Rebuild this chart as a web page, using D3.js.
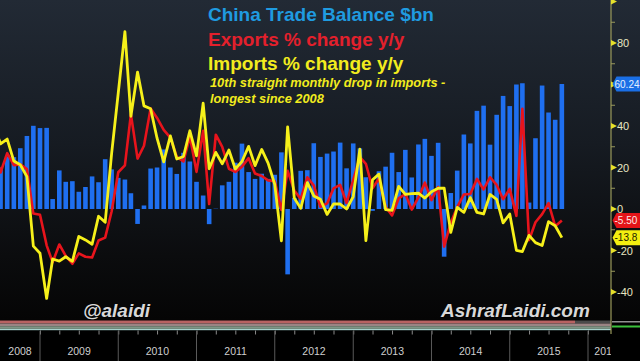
<!DOCTYPE html>
<html>
<head>
<meta charset="utf-8">
<script src="https://cdn.jsdelivr.net/npm/d3@7/dist/d3.min.js"></script>
<style>
html,body{margin:0;padding:0;background:#000;}
svg{display:block;}
text{font-family:"Liberation Sans",Arial,sans-serif;}
</style>
</head>
<body>
<svg id="chart" width="640" height="361"></svg>
<script>
// ---- DATA (monthly, May 2008 .. Aug 2015) ----
const firstMonth = "2008-05";
// China trade balance, $bn
const tradeBalance = [
  20.2, 20.0, 25.3, 25.0, 29.3, 35.2, 40.1, 39.0,
  39.1, 4.8, 18.6, 13.1, 13.4, 8.3, 10.6, 15.7, 12.9, 24.0, 19.1, 15.0,
  14.2, 7.6, -7.2, 1.7, 19.5, 20.0, 28.7, 20.0, 16.9, 27.1, 22.9, 13.1,
  6.5, -7.3, 0.14, 11.4, 13.1, 22.3, 31.5, 17.8, 14.5, 17.0, 14.5, 16.5,
  27.3, -31.5, 5.35, 18.4, 18.7, 31.7, 25.1, 26.7, 27.7, 32.0, 19.6, 31.6,
  29.2, 15.3, -0.88, 18.2, 20.4, 27.1, 17.8, 28.5, 15.2, 31.1, 33.8, 25.6,
  31.9, -22.98, 7.7, 18.5, 35.9, 31.6, 47.3, 49.8, 31.0, 45.4, 54.5, 49.6,
  60.0, 60.6, 3.1, 34.1, 59.5, 46.5, 43.0, 60.24
];
// Exports % change y/y
const exportsYoY = [
  28.1, 17.6, 26.9, 21.1, 21.5, 19.2, -2.2, -2.8,
  -17.5, -25.7, -17.1, -22.6, -26.4, -21.4, -23.0, -23.4, -15.2, -13.8, -1.2, 17.7,
  21.0, 45.7, 24.3, 30.5, 48.5, 43.9, 38.1, 34.4, 25.1, 22.9, 34.9, 17.9,
  37.7, 2.4, 35.8, 29.9, 19.4, 17.9, 20.4, 24.5, 17.1, 15.9, 13.8, 13.4,
  -0.5, 18.4, 8.9, 4.9, 15.3, 11.3, 1.0, 2.7, 9.9, 11.6, 2.9, 14.1,
  25.0, 21.8, 10.0, 14.7, 1.0, -3.1, 5.1, 7.2, -0.3, 5.6, 12.7, 4.3,
  10.6, -18.1, -6.6, 0.9, 7.0, 7.2, 14.5, 9.4, 15.3, 11.6, 4.7, 9.7,
  -3.3, 48.3, -15.0, -6.4, -2.5, 2.8, -8.3, -5.5
];
// Imports % change y/y
const importsYoY = [
  40.0, 31.4, 33.7, 23.1, 21.3, 15.6, -17.9, -21.3,
  -43.1, -24.1, -25.1, -23.0, -25.2, -13.2, -14.9, -17.0, -3.5, -6.4, 26.7, 55.9,
  85.5, 44.7, 66.0, 49.7, 48.3, 34.1, 22.7, 35.2, 24.1, 25.3, 37.7, 25.6,
  51.0, 19.4, 27.3, 21.8, 28.4, 19.3, 22.9, 30.2, 20.9, 28.7, 22.1, 11.8,
  -15.3, 39.6, 5.3, 0.3, 12.7, 6.3, 4.7, -2.6, 2.4, 2.4, 0.0, 6.0,
  28.8, -15.2, 14.1, 16.8, -0.3, -0.7, 10.9, 7.0, 7.4, 7.6, 5.3, 8.3,
  10.0, 10.1, -11.3, 0.8, -1.6, 5.5, -1.6, -2.4, 7.0, 4.6, -6.7, -2.4,
  -19.9, -20.5, -12.7, -16.2, -17.6, -6.1, -8.1, -13.8
];
const yTicks = [-40, -30, -20, -10, 0, 10, 20, 30, 40, 50, 60, 70, 80, 90, 100];
const yLabelTicks = [-40, -20, 0, 20, 40, 80]; // 60 is hidden under the 60.24 tag
const yMajorTicks = [-40, -20, 0, 20, 40, 60, 80, 100];
const yearLabels = ["2008","2009","2010","2011","2012","2013","2014","2015","2016"];
const titleLines = ["China Trade Balance $bn", "Exports % change y/y", "Imports % change y/y"];
const noteLines = ["10th straight monthly drop in imports -", "longest since 2008"];
const tagLabels = ["60.24", "-5.50", "-13.8"];

// ---- SETUP ----
const svg = d3.select("#chart");
const W = 640, H = 361, axisX = 611, plotBottom = 320;

const parseM = d3.timeParse("%Y-%m");
const m0 = parseM(firstMonth);
// values plotted at month end (start of following month)
const dates = tradeBalance.map((_, i) => d3.timeMonth.offset(m0, i + 1));

const x = d3.scaleTime()
  .domain([new Date(2009, 0, 1), new Date(2016, 0, 1)])
  .range([40, 588]);
const y = d3.scaleLinear().domain([-40, 80]).range([292, 43]);

const defs = svg.append("defs");
const grad = defs.append("linearGradient").attr("id", "bg").attr("x1", 0).attr("y1", 0).attr("x2", 0).attr("y2", 1);
grad.append("stop").attr("offset", "0%").attr("stop-color", "#222a35");
grad.append("stop").attr("offset", "45%").attr("stop-color", "#161b22");
grad.append("stop").attr("offset", "80%").attr("stop-color", "#0b0c0e");
grad.append("stop").attr("offset", "100%").attr("stop-color", "#050505");
defs.append("clipPath").attr("id", "plotClip").append("rect")
  .attr("x", 0).attr("y", 0).attr("width", axisX).attr("height", plotBottom);
defs.append("clipPath").attr("id", "axisClip").append("rect")
  .attr("x", 0).attr("y", plotBottom).attr("width", axisX).attr("height", H - plotBottom);

svg.append("rect").attr("width", W).attr("height", H).attr("fill", "#000");
svg.append("rect").attr("width", W).attr("height", plotBottom).attr("fill", "url(#bg)");

// ---- BARS ----
const plot = svg.append("g").attr("clip-path", "url(#plotClip)");
const bw = 4.6;
plot.append("g").selectAll("rect").data(tradeBalance).join("rect")
  .attr("x", (d, i) => x(dates[i]) - bw / 2)
  .attr("width", bw)
  .attr("y", d => Math.min(y(d), y(0)))
  .attr("height", d => Math.abs(y(d) - y(0)))
  .attr("fill", "#1f6ff0");

// ---- LINES ----
const line = d3.line().x((d, i) => x(dates[i])).y(d => y(d));
plot.append("path").datum(exportsYoY).attr("d", line)
  .attr("fill", "none").attr("stroke", "#e8141c").attr("stroke-width", 2.6).attr("stroke-linejoin", "round");
plot.append("path").datum(importsYoY).attr("d", line)
  .attr("fill", "none").attr("stroke", "#f6f01a").attr("stroke-width", 2.8).attr("stroke-linejoin", "round");

// ---- TITLES ----
const titleColors = ["#1f9be0", "#e3202c", "#f2ec1e"];
titleLines.forEach((t, i) => {
  svg.append("text").attr("x", 208).attr("y", 21 + i * 24.5)
    .attr("font-size", 19).attr("font-weight", "bold")
    .attr("fill", titleColors[i]).text(t);
});
noteLines.forEach((t, i) => {
  svg.append("text").attr("x", 210).attr("y", 87 + i * 16)
    .attr("font-size", 12.8).attr("font-weight", "bold").attr("font-style", "italic")
    .attr("fill", "#f2ec1e").text(t);
});

// watermarks
[["@alaidi", 83], ["AshrafLaidi.com", 441]].forEach(([t, xx]) => {
  svg.append("text").attr("x", xx + 1).attr("y", 318).attr("font-size", 19)
    .attr("font-weight", "bold").attr("font-style", "italic").attr("fill", "#000").attr("opacity", 0.6).text(t);
  svg.append("text").attr("x", xx).attr("y", 317).attr("font-size", 19)
    .attr("font-weight", "bold").attr("font-style", "italic").attr("fill", "#d8d8d8").text(t);
});

// ---- BOTTOM STRIPS ----
svg.append("rect").attr("x", 0).attr("y", 320.5).attr("width", 575).attr("height", 3).attr("fill", "#b86262");
svg.append("rect").attr("x", 575).attr("y", 320.5).attr("width", axisX - 575).attr("height", 3).attr("fill", "#4a4a4a");
svg.append("rect").attr("x", 0).attr("y", 323.5).attr("width", axisX).attr("height", 2.7).attr("fill", "#9a8484");
svg.append("rect").attr("x", 0).attr("y", 326.2).attr("width", axisX).attr("height", 2.6).attr("fill", "#7f9484");
svg.append("rect").attr("x", 0).attr("y", 328.8).attr("width", axisX).attr("height", 1.4).attr("fill", "#a6d2cc");
svg.append("rect").attr("x", axisX + 1).attr("y", 321).attr("width", W - axisX).attr("height", 1.5).attr("fill", "#cfcfcf").attr("opacity", 0.7);
svg.append("rect").attr("x", axisX + 1).attr("y", 325.5).attr("width", W - axisX).attr("height", 2).attr("fill", "#3cc03c");

// ---- X AXIS ----
const xAxisG = svg.append("g").attr("clip-path", "url(#axisClip)");
const xAx = d3.axisBottom(x).ticks(d3.timeMonth.every(3)).tickSize(4).tickFormat("");
const gx = xAxisG.append("g").attr("transform", `translate(0,${330.5})`).call(xAx);
gx.select(".domain").remove();
gx.selectAll(".tick line").attr("stroke", "#8a8a8a");
const yearStarts = yearLabels.map(s => new Date(+s, 0, 1));
xAxisG.append("g").selectAll("line").data(yearStarts.slice(1)).join("line")
  .attr("x1", d => x(d)).attr("x2", d => x(d)).attr("y1", 331).attr("y2", H)
  .attr("stroke", "#5a5a5a").attr("stroke-width", 1);
xAxisG.append("g").selectAll("text").data(yearLabels).join("text")
  .attr("x", (s, i) => {
    const a = Math.max(0, x(new Date(+s, 0, 1)));
    const b = Math.min(624, x(new Date(+s + 1, 0, 1)));
    return (a + b) / 2;
  })
  .attr("y", 355).attr("text-anchor", "middle").attr("font-size", 10.5)
  .attr("fill", "#cfcfcf").text(s => s);

// ---- RIGHT AXIS ----
const ay = svg.append("g");
ay.append("line").attr("x1", axisX).attr("x2", axisX).attr("y1", 0).attr("y2", 334)
  .attr("stroke", "#9a9a5c").attr("stroke-width", 1.2);
yTicks.forEach(v => {
  const yy = y(v);
  if (yMajorTicks.includes(v)) {
    ay.append("path").attr("d", `M${axisX},${yy - 3}L${axisX + 6},${yy}L${axisX},${yy + 3}Z`).attr("fill", "#e6e02a");
    if (yLabelTicks.includes(v)) {
      ay.append("text").attr("x", axisX + 6).attr("y", yy + 4).attr("font-size", 11)
        .attr("fill", "#e8e6c2").text(v);
    }
  } else {
    ay.append("line").attr("x1", axisX).attr("x2", axisX + 4).attr("y1", yy).attr("y2", yy)
      .attr("stroke", "#9a9a5c");
  }
});

// ---- LAST VALUE TAGS ----
const tags = [
  {v: tradeBalance[tradeBalance.length - 1], txt: tagLabels[0], fill: "#1a6fe6", color: "#e4f0ff"},
  {v: exportsYoY[exportsYoY.length - 1], txt: tagLabels[1], fill: "#e41418", color: "#ffe8e8"},
  {v: importsYoY[importsYoY.length - 1], txt: tagLabels[2], fill: "#f4ee10", color: "#222200"}
];
tags.forEach(t => {
  const yy = y(t.v), h = 15, x0 = axisX + 1.5;
  ay.append("path")
    .attr("d", `M${x0},${yy}L${x0 + 4},${yy - h / 2}L${W},${yy - h / 2}L${W},${yy + h / 2}L${x0 + 4},${yy + h / 2}Z`)
    .attr("fill", t.fill);
  ay.append("text").attr("x", x0 + 2).attr("y", yy + 3.8).attr("font-size", 10)
    .attr("fill", t.color).text(t.txt);
});
</script>
</body>
</html>
